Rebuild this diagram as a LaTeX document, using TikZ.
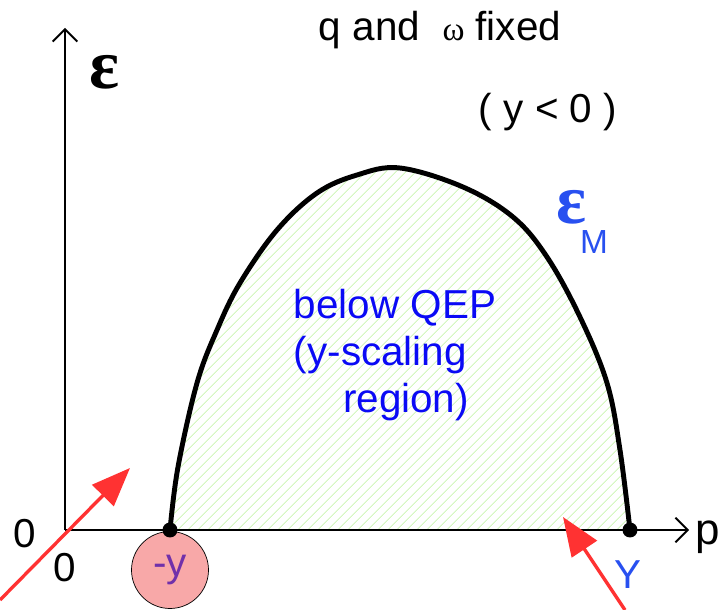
\RequirePackage{fix-cm}
\documentclass[tikz,border=0pt]{standalone}
\usepackage{amsmath,amssymb}
\usepackage{fontspec}
\setmainfont{Liberation Sans}
\newfontfamily\greekfont{Liberation Serif}
\usetikzlibrary{arrows.meta,patterns.meta,positioning}
\definecolor{qepblue}{RGB}{10,10,245}
\definecolor{lblblue}{RGB}{40,80,240}
\definecolor{raycol}{RGB}{255,50,50}
\definecolor{hatchgreen}{RGB}{190,242,160}
\definecolor{ypurple}{RGB}{112,48,170}
\definecolor{ypink}{RGB}{248,168,168}

\begin{document}
\begin{tikzpicture}[
    axis/.style={line width=1.1pt, -{Straight Barb[length=7pt,width=14pt]}},
    hull/.style={line width=2.8pt, line join=round},
    hatch/.style={pattern={Lines[angle=45,distance=4pt,line width=0.4pt]}, pattern color=hatchgreen},
    dot/.style={circle, fill=black, inner sep=0pt, minimum size=0.3cm},
    ray/.style={line width=1.9pt, draw=raycol, -{Triangle[length=22pt,width=17pt]}},
    txt/.style={font=\fontsize{23}{27}\selectfont, inner sep=0pt},
    bigeps/.style={font=\greekfont\bfseries\fontsize{40}{44}\selectfont, inner sep=0pt}
]
\useasboundingbox (0,0) rectangle (14.42,12.2);

\coordinate (O) at (1.30,1.60);
\coordinate (etop) at (1.30,11.64);
\coordinate (pend) at (13.78,1.60);
\coordinate (ylo) at (3.40,1.60);
\coordinate (yhi) at (12.60,1.60);

\fill[hatch] plot[smooth, tension=0.6] coordinates {(3.40,1.60) (3.56,2.86) (3.94,4.54) (4.34,5.60) (4.80,6.54) (5.54,7.60) (6.34,8.34) (7.14,8.70) (8.00,8.84) (9.26,8.46) (10.26,7.86) (10.94,7.06) (11.60,5.86) (12.14,4.54) (12.40,3.20) (12.60,1.60)} -- cycle;

\node[circle, draw, thin, fill=ypink, minimum size=1.54cm, inner sep=0pt, txt, text=ypurple] (ycirc) at (3.40,0.80) {-y};

\draw[axis] (O) -- (etop);
\draw[axis] (O) -- (pend);

\draw[hull] plot[smooth, tension=0.6] coordinates {(3.40,1.60) (3.56,2.86) (3.94,4.54) (4.34,5.60) (4.80,6.54) (5.54,7.60) (6.34,8.34) (7.14,8.70) (8.00,8.84) (9.26,8.46) (10.26,7.86) (10.94,7.06) (11.60,5.86) (12.14,4.54) (12.40,3.20) (12.60,1.60)};
\node[dot] (dlo) at (ylo) {};
\node[dot] (dhi) at (yhi) {};

\node[bigeps] (eps) at (2.10,10.76) {ε};
\node[txt] (zl) at (0.50,1.52) {0};
\node[txt] (zb) at (1.30,0.84) {0};
\node[txt, anchor=base west, font=\fontsize{25}{28}\selectfont] (p) at (13.90,1.30) {p};
\node[txt] (fixed) at (8.80,11.60) {q and\ \ {\greekfont\fontsize{19}{20}\selectfont ω} fixed};
\node[txt] (ysign) at (10.96,9.96) {( y < 0 )};
\node[txt, text=qepblue, align=left] (qep) at (7.90,5.10) {below QEP\\(y-scaling\\\hspace*{28pt}region)};
\node[bigeps, text=lblblue] (epsm) at (11.44,8.06) {ε};
\node[inner sep=0pt, text=lblblue, font=\fontsize{19}{21}\selectfont] (msub) at (11.88,7.36) {M};
\node[txt, text=lblblue] (Ylbl) at (12.56,0.70) {Y};

\coordinate (src1) at (0,0.20);
\coordinate (tip1) at (2.60,2.84);
\coordinate (src2) at (12.50,0);
\coordinate (tip2) at (11.26,1.86);
\draw[ray] (src1) -- (tip1);
\draw[ray] (src2) -- (tip2);
\end{tikzpicture}
\end{document}
